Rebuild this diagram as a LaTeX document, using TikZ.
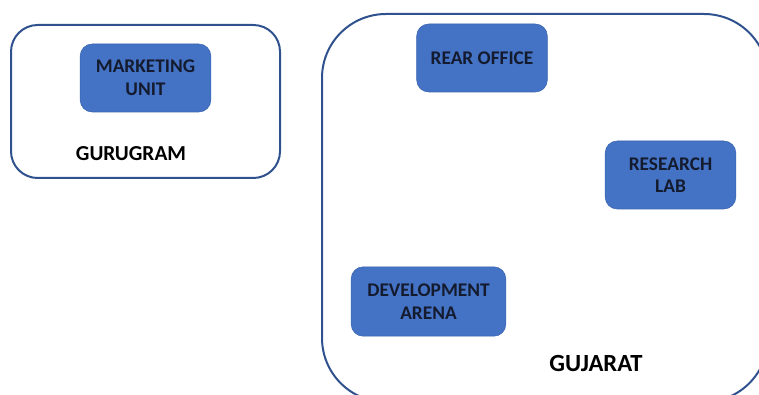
\documentclass[tikz,border=0pt]{standalone}
\usepackage{fontspec}
\setmainfont{Carlito}
\usepackage{tikz}
\usetikzlibrary{positioning}
\definecolor{unitblue}{HTML}{4472C4}
\definecolor{unitedge}{HTML}{3A64AE}
\definecolor{regionedge}{HTML}{2F528F}
\definecolor{unittext}{HTML}{141B2E}
\tikzstyle{region}=[draw=regionedge,line width=1.5pt]
\tikzstyle{unit}=[draw=unitedge,fill=unitblue,rounded corners=9pt,text=unittext,
                font=\bfseries\fontsize{14.5}{17}\selectfont,align=center,inner sep=0pt]
\tikzstyle{place}=[font=\bfseries\fontsize{16}{18}\selectfont,text=black]
\begin{document}
\begin{tikzpicture}[x=0.75pt,y=-0.75pt]
	\useasboundingbox (0,0) rectangle (759,395);
	% the two sites
	\draw[region,rounded corners=20pt] (11,25) rectangle (280,178);
	\draw[region,rounded corners=48pt] (322,14) rectangle (768,402);
	% units
	\node[unit,minimum width=98pt,minimum height=51pt] (mkt) at (145.5,78) {MARKETING\\UNIT};
	\node[unit,minimum width=98pt,minimum height=51pt] (rear) at (482,58) {REAR OFFICE};
	\node[unit,minimum width=98pt,minimum height=51pt] (lab) at (670.5,175) {RESEARCH\\LAB};
	\node[unit,minimum width=116pt,minimum height=52pt] (dev) at (428.5,301.5) {DEVELOPMENT\\ARENA};
	% names
	\node[place] (gur) at (131,154) {GURUGRAM};
	\node[place,font=\bfseries\fontsize{18.5}{20}\selectfont] (guj) at (596,364) {GUJARAT};
\end{tikzpicture}
\end{document}
